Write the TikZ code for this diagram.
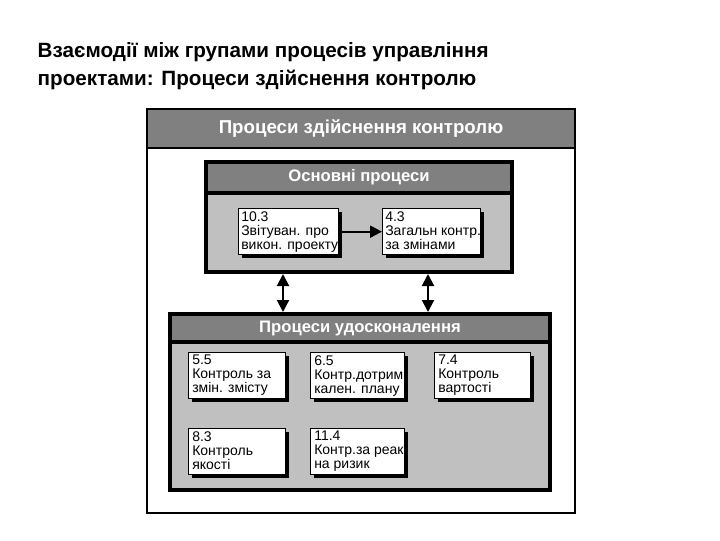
\documentclass[tikz,border=0pt]{standalone}
\usepackage{fontspec}
\setmainfont{Liberation Sans}
\usetikzlibrary{arrows.meta}
\definecolor{dg}{RGB}{128,128,128}
\definecolor{lg}{RGB}{192,192,192}
\tikzset{
 pbox/.style={draw=black,line width=1pt,fill=white,inner sep=0pt},
 btxt/.style={anchor=north west,align=left,font=\fontsize{10.5}{10.5}\selectfont,inner sep=0pt},
 htxt/.style={text=white,font=\bfseries\fontsize{12.5}{12.5}\selectfont},
 arr/.style={-{Triangle[length=9pt,width=9pt]},line width=1.5pt},
 darr/.style={{Triangle[length=9pt,width=9pt]}-{Triangle[length=9pt,width=9pt]},line width=1.5pt}
}
\newcommand{\pb}[5]{% name x1 y1 x2 y2
 \fill[black] (#2+4,#3+4) rectangle (#4+4,#5+4);
 \node[pbox,minimum width={(#4-#2)*0.75pt},minimum height={(#5-#3)*0.75pt},anchor=north west] (#1) at (#2,#3) {};
}
\begin{document}
\begin{tikzpicture}[x=0.75pt,y=-0.75pt]
\useasboundingbox (0,0) rectangle (720,540);
\node[anchor=west,align=left,font=\bfseries\fontsize{15.5}{20.5}\selectfont] (title) at (33,66) {Взаємодії між групами процесів управління\\проектами: Процеси здійснення контролю};
% outer
\draw[line width=2pt,fill=white] (147,109) rectangle (575,513);
\draw[line width=2pt,fill=dg] (147,109) rectangle (575,148);
\node[htxt,font=\bfseries\fontsize{14}{14}\selectfont] (t1) at (361,128.5) {Процеси здійснення контролю};
% main
\draw[line width=2.5pt,fill=lg] (206,162) rectangle (512,272);
\draw[line width=2.5pt,fill=dg] (206,162) rectangle (512,193);
\node[htxt] (t2) at (359,177.5) {Основні процеси};
\pb{a}{238}{208}{338}{254}
\pb{b}{382}{208}{480}{254}
\node[btxt] at (241,211) {10.3\\Звітуван. про\\викон. проекту};
\node[btxt] at (385,211) {4.3\\Загальн контр.\\за змінами};
\draw[arr] (a.east) -- (b.west);
% improvement
\draw[line width=2.5pt,fill=lg] (170,314) rectangle (550,490);
\draw[line width=2.5pt,fill=dg] (170,314) rectangle (550,342);
\node[htxt] (t3) at (360,328) {Процеси удосконалення};
\pb{c}{188}{352}{285}{398}
\pb{d}{310}{352}{404}{398}
\pb{e}{434}{352}{530}{398}
\pb{f}{188}{428}{285}{474}
\pb{g}{310}{428}{404}{474}
\node[btxt] at (192,355) {5.5\\Контроль за\\змін. змісту};
\node[btxt] at (314,355) {6.5\\Контр.дотрим.\\кален. плану};
\node[btxt] at (438,355) {7.4\\Контроль\\вартості};
\node[btxt] at (192,431) {8.3\\Контроль\\якості};
\node[btxt] at (314,431) {11.4\\Контр.за реак.\\на ризик};
\coordinate (u1) at (283,274); \coordinate (l1) at (283,312);
\coordinate (u2) at (428,274); \coordinate (l2) at (428,312);
\draw[darr] (u1) -- (l1);
\draw[darr] (u2) -- (l2);
\end{tikzpicture}
\end{document}
